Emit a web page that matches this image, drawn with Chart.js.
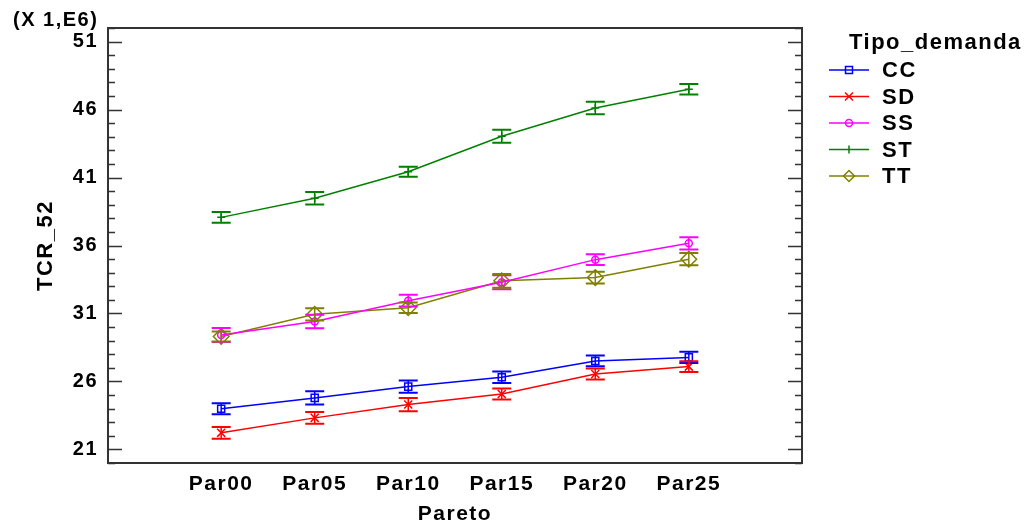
<!DOCTYPE html>
<html lang="es">
<head>
    <meta charset="UTF-8">
    <title>TCR_52 por Pareto y Tipo_demanda</title>
    <script src="https://cdn.jsdelivr.net/npm/chart.js"></script>
    <style>
        body {
            margin: 0;
            background-color: #ffffff;
        }

        .chart-container {
            position: relative;
            width: 1031px;
            height: 527px;
        }
    </style>
</head>
<body>

<div class="chart-container">
    <canvas id="grafico"></canvas>
</div>

<script>
// Datos (valores en millones)
const categorias = ['Par00', 'Par05', 'Par10', 'Par15', 'Par20', 'Par25'];
const ticksY = [21, 26, 31, 36, 41, 46, 51];

const seriesNombres = ['CC', 'SD', 'SS', 'ST', 'TT'];

const valoresCC = [23.99, 24.79, 25.62, 26.31, 27.51, 27.77];
const valoresSD = [22.22, 23.32, 24.30, 25.08, 26.55, 27.09];
const valoresSS = [29.42, 30.41, 31.94, 33.30, 34.96, 36.16];
const valoresST = [38.07, 39.47, 41.42, 44.04, 46.12, 47.49];
const valoresTT = [29.31, 30.94, 31.42, 33.40, 33.64, 34.99];

// Semiancho de las barras de error
const errorCC = [0.40, 0.49, 0.45, 0.42, 0.39, 0.42];
const errorSD = [0.43, 0.43, 0.49, 0.40, 0.40, 0.39];
const errorSS = [0.51, 0.49, 0.43, 0.51, 0.39, 0.45];
const errorST = [0.39, 0.46, 0.37, 0.48, 0.46, 0.39];
const errorTT = [0.37, 0.45, 0.39, 0.51, 0.43, 0.45];

const valores = [valoresCC, valoresSD, valoresSS, valoresST, valoresTT];
const errores = [errorCC, errorSD, errorSS, errorST, errorTT];
const colores = ['#0000ff', '#ff0000', '#ff00ff', '#008000', '#808000'];
const marcadores = ['rect', 'crossRot', 'circle', 'cross', 'rectRot'];
const radios = [5, 5.7, 3.5, 4, 7.8];          // radio de Chart.js
const tamLeyenda = [3.5, 4, 3.5, 4, 5.5];      // semitamano en la leyenda

const fuente = "'Liberation Sans', Arial, sans-serif";

const datasets = seriesNombres.map((nombre, s) => ({
    label: nombre,
    data: valores[s].map((v, i) => ({ x: i, y: v })),
    borderColor: colores[s],
    borderWidth: 1.5,
    pointStyle: marcadores[s],
    pointRadius: radios[s],
    pointBorderColor: colores[s],
    pointBackgroundColor: 'rgba(0,0,0,0)',
    pointBorderWidth: 1.5,
    tension: 0,
    fill: false
}));

function dibujarMarcador(ctx, estilo, x, y, r) {
    ctx.beginPath();
    if (estilo === 'rect') {
        ctx.rect(x - r, y - r, 2 * r, 2 * r);
    } else if (estilo === 'crossRot') {
        ctx.moveTo(x - r, y - r); ctx.lineTo(x + r, y + r);
        ctx.moveTo(x + r, y - r); ctx.lineTo(x - r, y + r);
    } else if (estilo === 'circle') {
        ctx.arc(x, y, r, 0, Math.PI * 2);
    } else if (estilo === 'cross') {
        ctx.moveTo(x, y - r); ctx.lineTo(x, y + r);
    } else if (estilo === 'rectRot') {
        ctx.moveTo(x, y - r); ctx.lineTo(x + r, y); ctx.lineTo(x, y + r); ctx.lineTo(x - r, y); ctx.closePath();
    }
    ctx.stroke();
}

const pluginExtras = {
    id: 'extras',
    beforeDraw(chart) {
        chart.ctx.letterSpacing = '1.5px';
    },
    afterDatasetsDraw(chart) {
        const ctx = chart.ctx;
        const xs = chart.scales.x;
        const ys = chart.scales.y;
        const area = chart.chartArea;

        // barras de error
        ctx.save();
        seriesNombres.forEach((nombre, s) => {
            ctx.strokeStyle = colores[s];
            valores[s].forEach((v, i) => {
                const x = xs.getPixelForValue(i);
                const yA = ys.getPixelForValue(v + errores[s][i]);
                const yB = ys.getPixelForValue(v - errores[s][i]);
                ctx.lineWidth = 1.5;
                ctx.beginPath();
                ctx.moveTo(x, yA); ctx.lineTo(x, yB);
                ctx.stroke();
                ctx.lineWidth = 2;
                ctx.beginPath();
                ctx.moveTo(x - 9.5, yA); ctx.lineTo(x + 9.5, yA);
                ctx.moveTo(x - 9.5, yB); ctx.lineTo(x + 9.5, yB);
                ctx.stroke();
            });
        });

        // marco y marcas del eje Y (hacia dentro, izquierda y derecha)
        ctx.strokeStyle = '#333333';
        ctx.lineWidth = 2;
        ctx.strokeRect(area.left, area.top, area.right - area.left, area.bottom - area.top);
        ctx.lineWidth = 1.5;
        ctx.beginPath();
        for (let v = Math.ceil(ys.min); v <= ys.max; v++) {
            const y = Math.round(ys.getPixelForValue(v)) + 0.5;
            const largo = ticksY.includes(v) ? 14 : 7;
            ctx.moveTo(area.left, y); ctx.lineTo(area.left + largo, y);
            ctx.moveTo(area.right, y); ctx.lineTo(area.right - largo, y);
        }
        ctx.stroke();

        // factor de escala
        ctx.fillStyle = '#000000';
        ctx.font = 'bold 20px ' + fuente;
        ctx.textAlign = 'left';
        ctx.textBaseline = 'middle';
        ctx.fillText('(X 1,E6)', 13, 20);

        // leyenda
        ctx.font = 'bold 22px ' + fuente;
        ctx.fillText('Tipo_demanda', 849, 43);
        seriesNombres.forEach((nombre, s) => {
            const y = 70 + s * 26.5;
            ctx.strokeStyle = colores[s];
            ctx.lineWidth = 1.5;
            ctx.beginPath();
            ctx.moveTo(829, y); ctx.lineTo(869, y);
            ctx.stroke();
            dibujarMarcador(ctx, marcadores[s], 849, y, tamLeyenda[s]);
            ctx.fillStyle = '#000000';
            ctx.fillText(nombre, 882, y + 1);
        });
        ctx.restore();
    }
};

new Chart(document.getElementById('grafico'), {
    type: 'line',
    data: { datasets: datasets },
    plugins: [pluginExtras],
    options: {
        responsive: true,
        maintainAspectRatio: false,
        animation: false,
        layout: { padding: { left: 0, top: 28, right: 229, bottom: 0 } },
        plugins: {
            legend: { display: false },
            tooltip: { enabled: false }
        },
        scales: {
            x: {
                type: 'linear',
                min: -1.21,
                max: 6.21,
                grid: { display: false, drawTicks: false },
                border: { display: false },
                afterBuildTicks: (scale) => {
                    scale.ticks = categorias.map((c, i) => ({ value: i }));
                },
                afterFit: (scale) => { scale.height = 64; },
                ticks: {
                    autoSkip: false,
                    maxRotation: 0,
                    padding: 9,
                    color: '#000000',
                    font: { family: fuente, size: 21, weight: 'bold' },
                    callback: (v) => categorias[v]
                },
                title: {
                    display: true,
                    text: 'Pareto',
                    color: '#000000',
                    padding: { top: 0, bottom: 0 },
                    font: { family: fuente, size: 21, weight: 'bold' }
                }
            },
            y: {
                min: 20,
                max: 52,
                grid: { display: false, drawTicks: false },
                border: { display: false },
                afterBuildTicks: (scale) => {
                    scale.ticks = ticksY.map(v => ({ value: v }));
                },
                afterFit: (scale) => { scale.width = 108; },
                ticks: {
                    padding: 10,
                    color: '#000000',
                    font: { family: fuente, size: 20, weight: 'bold' }
                },
                title: {
                    display: true,
                    text: 'TCR_52',
                    color: '#000000',
                    padding: { top: 33, bottom: 0 },
                    font: { family: fuente, size: 22, weight: 'bold' }
                }
            }
        }
    }
});
</script>

</body>
</html>
